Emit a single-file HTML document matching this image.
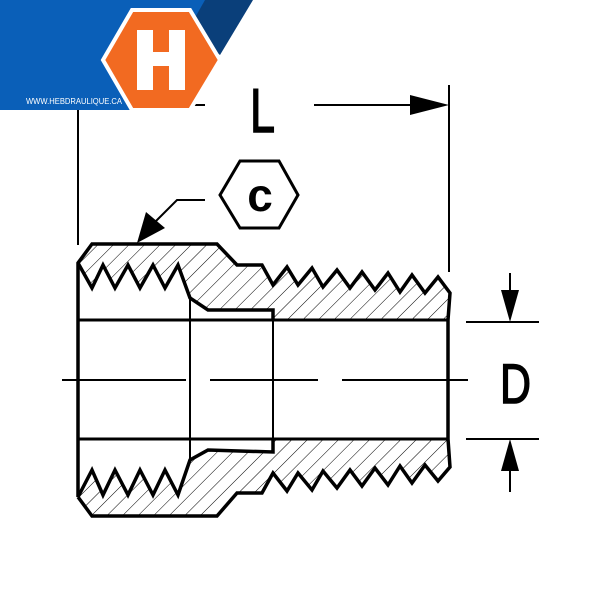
<!DOCTYPE html>
<html><head><style>body{margin:0;background:#fff}svg{display:block}</style></head><body>
<svg width="600" height="600" viewBox="0 0 600 600" xmlns="http://www.w3.org/2000/svg">
<defs>
<pattern id="h" patternUnits="userSpaceOnUse" width="11" height="11" patternTransform="rotate(45)">
<line x1="0" y1="0" x2="0" y2="11" stroke="#000" stroke-width="1"/>
</pattern>
</defs>
<path d="M78,263 L92,244 L217,244 L237,265 L262,265 L273,285 L287,267 L298,285 L312,268 L323,287 L337,270 L350,288 L362,272 L375,290 L388,273 L400,292 L412,275 L425,293 L438,277 L450,293 L448,320 L273,320 L273,310 L208,310 L190,298 L178,265 L165,288 L153,265 L140,288 L128,265 L115,288 L103,265 L92,288 Z" fill="url(#h)"/>
<path d="M78,497 L92,516 L217,516 L237,493 L262,493 L273,473 L287,491 L298,473 L312,490 L323,471 L337,488 L350,470 L362,486 L375,468 L388,485 L400,466 L412,483 L425,465 L438,481 L450,467 L448,439 L273,439 L273,452 L208,450 L190,460 L178,495 L165,470 L153,495 L140,470 L128,495 L115,470 L103,495 L92,470 Z" fill="url(#h)"/>
<g fill="none" stroke="#000" stroke-width="3.5" stroke-linejoin="miter">
<path d="M78,497 L78,263 L92,244 L217,244 L237,265 L262,265 L273,285 L287,267 L298,285 L312,268 L323,287 L337,270 L350,288 L362,272 L375,290 L388,273 L400,292 L412,275 L425,293 L438,277 L450,293 L448,320 L448,439 L450,467 L438,481 L425,465 L412,483 L400,466 L388,485 L375,468 L362,486 L350,470 L337,488 L323,471 L312,490 L298,473 L287,491 L273,473 L262,493 L237,493 L217,516 L92,516 L78,497"/>
<path d="M78,263 L92,288 L103,265 L115,288 L128,265 L140,288 L153,265 L165,288 L178,265 L190,298 L208,310 L273,310 L273,320"/>
<path d="M78,497 L92,470 L103,495 L115,470 L128,495 L140,470 L153,495 L165,470 L178,495 L190,460 L208,450 L273,452 L273,439"/>
<line x1="78" y1="320" x2="448" y2="320" stroke-width="3"/>
<line x1="78" y1="439" x2="448" y2="439" stroke-width="3"/>
</g>
<g stroke="#000" stroke-width="2" fill="none">
<line x1="190" y1="298" x2="190" y2="460"/>
<line x1="273" y1="310" x2="273" y2="452"/>
<line x1="62" y1="380" x2="186" y2="380"/>
<line x1="210" y1="380" x2="318" y2="380"/>
<line x1="342" y1="380" x2="468" y2="380"/>
<line x1="78" y1="100" x2="78" y2="245"/>
<line x1="449" y1="85" x2="449" y2="272"/>
<line x1="314" y1="105" x2="420" y2="105"/>
<line x1="185" y1="105" x2="205" y2="105"/>
<line x1="466" y1="322" x2="539" y2="322"/>
<line x1="466" y1="439" x2="539" y2="439"/>
<line x1="510" y1="273" x2="510" y2="295"/>
<line x1="510" y1="466" x2="510" y2="492"/>
<polyline points="205,200 177,200 155,222"/>
</g>
<polygon points="449,105 410,95 410,115" fill="#000"/>
<polygon points="510,322 501,290 519,290" fill="#000"/>
<polygon points="510,439 501,471 519,471" fill="#000"/>
<polygon points="137,243 146,212 165,228" fill="#000"/>
<polygon points="240,161 279,161 298,195 279,228 240,228 220,195" fill="#fff" stroke="#000" stroke-width="3"/>
<text x="260" y="211" font-family="Liberation Sans, sans-serif" font-weight="bold" font-size="46" text-anchor="middle">c</text>
<text x="250" y="132" font-family="Liberation Sans, sans-serif" font-size="62" stroke="#000" stroke-width="1.5" textLength="25" lengthAdjust="spacingAndGlyphs">L</text>
<text x="500" y="403" font-family="Liberation Sans, sans-serif" font-size="56" stroke="#000" stroke-width="1.5" textLength="31" lengthAdjust="spacingAndGlyphs">D</text>
<polygon points="0,0 212,0 140,110 0,110" fill="#0a5fb8"/>
<polygon points="205,0 253,0 220,55 188,30" fill="#0a3f7a"/>
<polygon points="132,10 190,10 220,60 190,110 132,110 103,60" fill="#f26a21" stroke="#fff" stroke-width="4"/>
<path d="M137,30 h16 v22 h16 v-22 h16 v60 h-16 v-24 h-16 v24 h-16 Z" fill="#fff"/>
<text x="26" y="104" font-family="Liberation Sans, sans-serif" font-size="8" fill="#fff" textLength="96" lengthAdjust="spacingAndGlyphs">WWW.HEBDRAULIQUE.CA</text>
</svg>
</body></html>
